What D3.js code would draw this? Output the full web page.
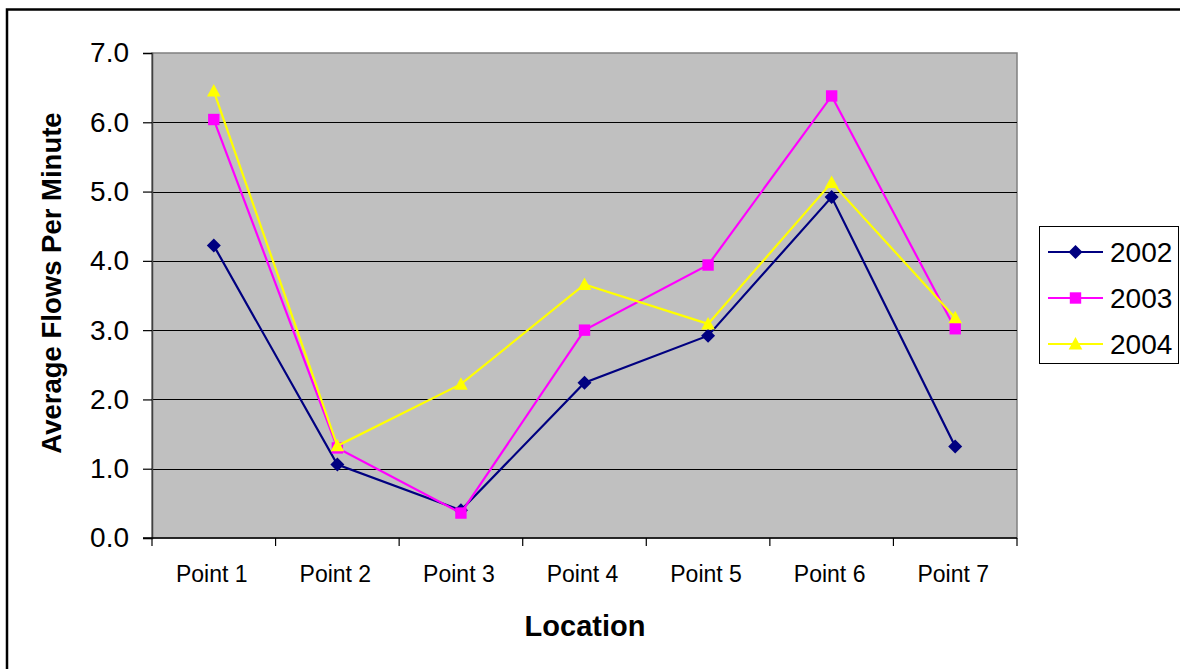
<!DOCTYPE html>
<html>
<head>
<meta charset="utf-8">
<script src="https://cdn.jsdelivr.net/npm/d3@7"></script>
<style>
  html, body { margin: 0; padding: 0; background: #fff; }
  svg { display: block; font-family: "Liberation Sans", Arial, sans-serif; }
</style>
</head>
<body>
<svg id="chart" width="1180" height="669"></svg>
<script>
// Average flows per minute at each location, by year
const categories = ["Point 1", "Point 2", "Point 3", "Point 4", "Point 5", "Point 6", "Point 7"];
const seriesNames = ["2002", "2003", "2004"];
const values2002 = [4.22, 1.06, 0.40, 2.24, 2.92, 4.92, 1.32];
const values2003 = [6.04, 1.30, 0.36, 3.00, 3.94, 6.38, 3.02];
const values2004 = [6.45, 1.33, 2.22, 3.66, 3.09, 5.13, 3.18];
const yTicks = [0, 1, 2, 3, 4, 5, 6, 7];

const colors = { "2002": "#000080", "2003": "#ff00ff", "2004": "#ffff00" };
const symbols = { "2002": "diamond", "2003": "square", "2004": "triangle" };
const seriesValues = { "2002": values2002, "2003": values2003, "2004": values2004 };

const svg = d3.select("#chart");

// outer chart frame
svg.append("rect")
  .attr("x", 7).attr("y", 9.5)
  .attr("width", 1400).attr("height", 1000)
  .attr("fill", "none").attr("stroke", "#000").attr("stroke-width", 2.5);

const plot = { left: 152, right: 1017, top: 53, bottom: 538 };

const x = d3.scaleBand().domain(categories).range([plot.left, plot.right]).padding(0);
const y = d3.scaleLinear().domain([0, 7]).range([plot.bottom, plot.top]);
const cx = c => x(c) + x.bandwidth() / 2;

// plot background
svg.append("rect")
  .attr("x", plot.left).attr("y", plot.top)
  .attr("width", plot.right - plot.left).attr("height", plot.bottom - plot.top)
  .attr("fill", "#c0c0c0")
  .attr("stroke", "#808080").attr("stroke-width", 1.5);

// horizontal gridlines
svg.append("g").selectAll("line")
  .data(yTicks.filter(t => t > 0 && t < 7))
  .join("line")
  .attr("x1", plot.left).attr("x2", plot.right)
  .attr("y1", d => Math.round(y(d)) + 0.5).attr("y2", d => Math.round(y(d)) + 0.5)
  .attr("stroke", "#000").attr("stroke-width", 1.2);

// y axis
const yAxis = svg.append("g")
  .attr("transform", `translate(${plot.left},0)`)
  .call(d3.axisLeft(y).tickValues(yTicks).tickFormat(d3.format(".1f")).tickSize(9).tickPadding(14));
yAxis.select(".domain").attr("stroke", "#404040").attr("stroke-width", 1.5);
yAxis.selectAll(".tick line").attr("stroke", "#000").attr("stroke-width", 1.2);
yAxis.selectAll(".tick text")
  .attr("font-size", 28).attr("fill", "#000")
  .attr("font-family", "'Liberation Sans', Arial, sans-serif");

// x axis with ticks between categories
const xAxisG = svg.append("g").attr("transform", `translate(0,${plot.bottom})`);
xAxisG.append("line")
  .attr("x1", plot.left - 9).attr("x2", plot.right)
  .attr("stroke", "#000").attr("stroke-width", 1.5);
const boundaries = categories.map(c => x(c)).concat([x(categories[categories.length - 1]) + x.bandwidth()]);
xAxisG.selectAll("line.tk")
  .data(boundaries)
  .join("line").attr("class", "tk")
  .attr("x1", d => d).attr("x2", d => d)
  .attr("y1", 0).attr("y2", 8)
  .attr("stroke", "#000").attr("stroke-width", 1.2);
xAxisG.selectAll("text")
  .data(categories)
  .join("text")
  .attr("x", d => cx(d) - 2)
  .attr("y", 44)
  .attr("text-anchor", "middle")
  .attr("font-size", 23)
  .text(d => d);

// axis titles
svg.append("text")
  .attr("x", 585).attr("y", 636)
  .attr("text-anchor", "middle")
  .attr("font-size", 29).attr("font-weight", "bold")
  .text("Location");

svg.append("text")
  .attr("transform", "translate(61,283) rotate(-90)")
  .attr("text-anchor", "middle")
  .attr("font-size", 27.5).attr("font-weight", "bold")
  .text("Average Flows Per Minute");

// marker shapes
function markerPath(kind) {
  if (kind === "diamond") return "M0,-7L7,0L0,7L-7,0Z";
  if (kind === "square") return "M-5.7,-5.7H5.7V5.7H-5.7Z";
  return "M0,-7L6.8,5.5H-6.8Z";
}

const line = d3.line().x(d => cx(d.cat)).y(d => y(d.v));

seriesNames.forEach(name => {
  const pts = categories.map((c, i) => ({ cat: c, v: seriesValues[name][i] }));
  const g = svg.append("g");
  g.append("path")
    .datum(pts)
    .attr("d", line)
    .attr("fill", "none")
    .attr("stroke", colors[name])
    .attr("stroke-width", 2.2);
  g.selectAll("path.m")
    .data(pts)
    .join("path").attr("class", "m")
    .attr("transform", d => `translate(${cx(d.cat)},${y(d.v)})`)
    .attr("d", markerPath(symbols[name]))
    .attr("fill", colors[name]);
});

// legend
const legend = svg.append("g");
legend.append("rect")
  .attr("x", 1039.5).attr("y", 226.5)
  .attr("width", 139).attr("height", 137)
  .attr("fill", "#fff").attr("stroke", "#000").attr("stroke-width", 1);
seriesNames.forEach((name, i) => {
  const ly = 252 + i * 46;
  legend.append("line")
    .attr("x1", 1048).attr("x2", 1103)
    .attr("y1", ly).attr("y2", ly)
    .attr("stroke", colors[name]).attr("stroke-width", 2.2);
  legend.append("path")
    .attr("transform", `translate(1075.5,${ly})`)
    .attr("d", markerPath(symbols[name]))
    .attr("fill", colors[name]);
  legend.append("text")
    .attr("x", 1110).attr("y", ly + 10)
    .attr("font-size", 28)
    .text(name);
});
</script>
</body>
</html>
